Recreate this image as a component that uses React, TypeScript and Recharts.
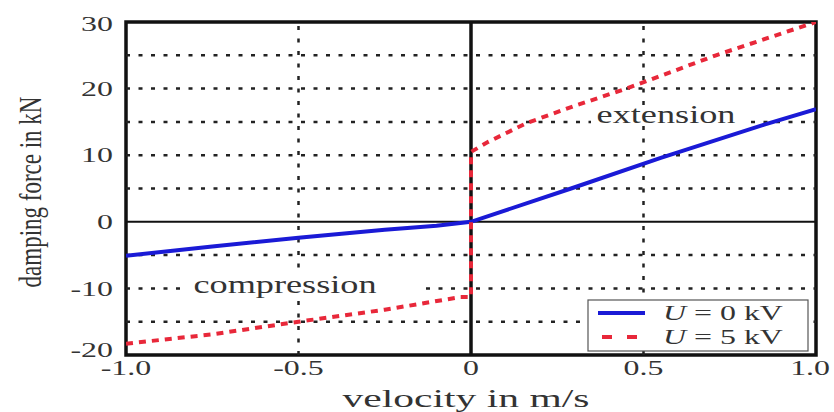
import { LineChart, Line, XAxis, YAxis, ReferenceLine, ReferenceArea } from "recharts"

// velocity in m/s vs damping force in kN
const velocity0 = [-1, -0.75, -0.5, -0.25, -0.1, 0, 0.29, 0.55, 0.85, 1]
const force0 = [-5.1, -3.7, -2.4, -1.2, -0.6, 0, 5, 9.6, 14.6, 16.9]

const velocity5 = [-1, -0.75, -0.5, -0.25, -0.03, 0, 0, 0.05, 0.16, 0.3, 0.45, 0.71, 1]
const force5 = [-18.3, -16.9, -15, -13.2, -11.3, -11.3, 10.5, 12, 14.8, 17.4, 20, 25, 30]

const xTicks = [-1, -0.5, 0, 0.5, 1]
const xTickLabels = ["-1.0", "-0.5", "0", "0.5", "1.0"]
const yTicks = [-20, -10, 0, 10, 20, 30]
const gridY = [-15, -10, -5, 5, 10, 15, 20, 25]
const gridX = [-0.5, 0.5]

const seriesNames = ["0 kV", "5 kV"]

const BLUE = "#1a1ad6"
const RED = "#e8283a"
const FONT = "'Liberation Serif', 'Times New Roman', serif"
const SX = 1.45

const data0 = velocity0.map((v, i) => ({ v, f: force0[i] }))
const data5 = velocity5.map((v, i) => ({ v, f: force5[i] }))

function XTick(props: any) {
  const { x, payload } = props
  const idx = xTicks.indexOf(payload.value)
  const last = payload.value === 1
  return (
    <g transform={`translate(${last ? x + 14 : x},368) scale(${SX},1)`}>
      <text x={0} y={0} textAnchor={last ? "end" : "middle"} dominantBaseline="central" fontSize={22} fill="#333" fontFamily={FONT}>
        {idx >= 0 ? xTickLabels[idx] : payload.value}
      </text>
    </g>
  )
}

function YTick(props: any) {
  const { y, payload } = props
  const dy = payload.value === -20 ? -5 : payload.value === 30 ? 2 : 0
  return (
    <g transform={`translate(113,${y + dy}) scale(${SX},1)`}>
      <text x={0} y={0} textAnchor="end" dominantBaseline="central" fontSize={22} fill="#333" fontFamily={FONT}>
        {payload.value}
      </text>
    </g>
  )
}

function Stretch({ x, y, size, anchor = "middle", children }: any) {
  return (
    <g transform={`translate(${x},${y}) scale(${SX},1)`}>
      <text x={0} y={0} textAnchor={anchor} dominantBaseline="central" fontSize={size} fill="#333" fontFamily={FONT}>
        {children}
      </text>
    </g>
  )
}

export default function App() {
  return (
    <div style={{ position: "absolute", left: 0, top: 0, width: 834, height: 412, background: "#fff" }}>
      <LineChart width={834} height={412} margin={{ top: 22, right: 18, bottom: 17, left: 66 }}>
        <XAxis
          type="number"
          dataKey="v"
          domain={[-1, 1]}
          ticks={xTicks}
          allowDataOverflow
          height={40}
          axisLine={false}
          tickLine={false}
          tick={XTick}
        />
        <YAxis
          type="number"
          domain={[-20, 30]}
          ticks={yTicks}
          allowDataOverflow
          width={60}
          axisLine={false}
          tickLine={false}
          tick={YTick}
        />
        {gridY.map((g) => (
          <ReferenceLine key={"y" + g} y={g} stroke="#222" strokeWidth={2.5} strokeDasharray="4 8.5" />
        ))}
        {gridX.map((g) => (
          <ReferenceLine key={"x" + g} x={g} stroke="#222" strokeWidth={2.5} strokeDasharray="4 8.5" />
        ))}
        <ReferenceLine y={0} stroke="#111" strokeWidth={2} />
        <ReferenceLine x={0} stroke="#111" strokeWidth={3.5} />
        <ReferenceArea x1={-1} x2={1} y1={-20} y2={30} fill="none" stroke="#111" strokeWidth={3.5} fillOpacity={0} />
        <Line
          data={data0}
          dataKey="f"
          name={seriesNames[0]}
          type="linear"
          stroke={BLUE}
          strokeWidth={4}
          dot={false}
          isAnimationActive={false}
        />
        <Line
          data={data5}
          dataKey="f"
          name={seriesNames[1]}
          type="linear"
          stroke={RED}
          strokeWidth={4}
          strokeDasharray="7 6"
          dot={false}
          isAnimationActive={false}
        />
      </LineChart>
      <svg width={834} height={412} style={{ position: "absolute", left: 0, top: 0, pointerEvents: "none" }}>
        <g transform={`translate(30,192) scale(1.4,1) rotate(-90)`}>
          <text x={0} y={0} textAnchor="middle" dominantBaseline="central" fontSize={23} fill="#333" fontFamily={FONT}>
            damping force in kN
          </text>
        </g>
        <text
          x={466}
          y={398}
          textAnchor="middle"
          dominantBaseline="central"
          fontSize={25}
          fill="#333"
          fontFamily={FONT}
          textLength={247}
          lengthAdjust="spacingAndGlyphs"
        >
          velocity in m/s
        </text>

        <rect x={181} y={273} width={238} height={24} fill="#fff" />
        <Stretch x={285} y={285} size={25}>compression</Stretch>
        <rect x={591} y={105} width={160} height={21} fill="#fff" />
        <Stretch x={666} y={115} size={25}>extension</Stretch>

        <rect x={588} y={300} width={220} height={51} fill="#fff" stroke="#555" strokeWidth={1.2} />
        <line x1={598} x2={645} y1={313} y2={313} stroke={BLUE} strokeWidth={4} />
        <line x1={602} x2={640} y1={337} y2={337} stroke={RED} strokeWidth={4} strokeDasharray="10 15" />
        <Stretch x={663} y={313} size={22} anchor="start">
          <tspan fontStyle="italic">U</tspan> = {seriesNames[0]}
        </Stretch>
        <Stretch x={663} y={337} size={22} anchor="start">
          <tspan fontStyle="italic">U</tspan> = {seriesNames[1]}
        </Stretch>
      </svg>
    </div>
  )
}
